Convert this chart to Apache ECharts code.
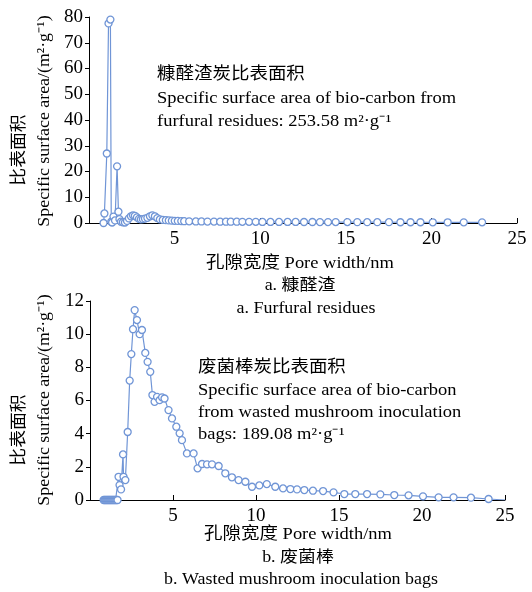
<!DOCTYPE html>
<html lang="en">
<head>
    <meta charset="UTF-8">
    <title>比表面积</title>
    <script src="https://cdn.jsdelivr.net/npm/echarts@6/dist/echarts.min.js"></script>
    <style>
        body { margin: 0; background: #fff; }
        #main { width: 532px; height: 592px; }
    </style>
</head>
<body>
<div id="main"></div>
<script>
    // 糠醛渣 (a) pore width / specific surface area
    var furfuralWidth = [0.85, 0.9, 1.04, 1.14, 1.25, 1.3, 1.35, 1.43, 1.52, 1.64, 1.72, 1.78, 1.87, 1.98, 2.1,
        2.22, 2.33, 2.45, 2.57, 2.68, 2.8, 2.92, 3.03, 3.15, 3.27, 3.41, 3.56, 3.7, 3.85, 3.99, 4.14, 4.31, 4.49,
        4.66, 4.84, 5.01, 5.19, 5.39, 5.56, 5.85, 6.24, 6.57, 6.92, 7.3, 7.66, 8.0, 8.28, 8.63, 8.96, 9.35, 9.74,
        10.13, 10.6, 11.1, 11.6, 12.07, 12.56, 13.05, 13.49, 13.96, 14.41, 15.09, 15.67, 16.25, 16.84, 17.52,
        18.19, 18.78, 19.36, 20.08, 20.95, 21.89, 22.96];
    var furfuralArea = [0, 3.7, 27, 77.5, 79, 0.5, 0.2, 2.5, 1.0, 22, 4.4, 1.5, 0.5, 0.3, 0.2,
        0.8, 1.8, 2.6, 3.0, 2.8, 2.2, 1.6, 1.4, 1.5, 1.7, 2.0, 2.6, 3.0, 2.6, 1.9, 1.4, 1.2, 1.1,
        1.0, 0.9, 0.85, 0.8, 0.75, 0.7, 0.65, 0.6, 0.6, 0.55, 0.55, 0.5, 0.5, 0.5, 0.5, 0.45, 0.45, 0.45,
        0.4, 0.4, 0.4, 0.4, 0.4, 0.38, 0.38, 0.36, 0.36, 0.35, 0.35, 0.34, 0.33, 0.32, 0.32,
        0.3, 0.3, 0.3, 0.28, 0.28, 0.26, 0.25];

    // 废菌棒 (b)
    var mushroomWidth = [0.82, 0.88, 0.94, 1.0, 1.06, 1.12, 1.18, 1.24, 1.3, 1.36, 1.42, 1.48, 1.54, 1.6, 1.66,
        1.72, 1.78, 1.87, 1.99, 2.02, 2.13, 2.27, 2.39, 2.49, 2.59, 2.69, 2.83, 2.99, 3.13, 3.33, 3.47, 3.63,
        3.76, 3.89, 4.04, 4.19, 4.34, 4.49, 4.73, 4.94, 5.2, 5.4, 5.54, 5.84, 6.24, 6.48, 6.75, 7.05, 7.35,
        7.75, 8.15, 8.55, 8.95, 9.36, 9.76, 10.2, 10.65, 11.16, 11.63, 12.07, 12.47, 12.91, 13.43, 14.04,
        14.67, 15.32, 15.98, 16.69, 17.49, 18.33, 19.19, 20.06, 21.0, 21.9, 22.95, 24.01, 25.0];
    var mushroomArea = [0, 0, 0, 0, 0, 0, 0, 0, 0, 0, 0, 0, 0, 0, 0,
        1.4, 0.9, 0.64, 2.75, 1.4, 1.2, 4.1, 7.2, 8.8, 10.3, 11.45, 10.85, 10.0, 10.25, 8.87, 8.33, 7.73,
        6.33, 5.92, 6.22, 6.02, 6.19, 6.12, 5.42, 4.92, 4.42, 4.02, 3.61, 2.81, 2.81, 1.91, 2.17, 2.15, 2.15,
        2.05, 1.61, 1.37, 1.2, 1.1, 0.8, 0.88, 0.96, 0.8, 0.7, 0.66, 0.64, 0.6, 0.56, 0.54,
        0.46, 0.36, 0.36, 0.36, 0.34, 0.3, 0.28, 0.22, 0.16, 0.16, 0.14, 0.06, 0];

    var xTicks = [0, 25, 5];
    var yTicksA = [0, 80, 10];
    var yTicksB = [0, 12, 2];

    var lineColor = '#7095d6';
    var serif = '"Liberation Serif", "Noto Sans CJK SC", serif';

    function pairs(xs, ys) {
        var out = [];
        for (var i = 0; i < xs.length; i++) out.push([xs[i], ys[i]]);
        return out;
    }

    function xAxisOf(gridIndex) {
        return {
            gridIndex: gridIndex, type: 'value',
            min: xTicks[0], max: xTicks[1], interval: xTicks[2],
            axisLine: {lineStyle: {color: '#000', width: 1}},
            axisTick: {inside: true, length: 5, lineStyle: {color: '#000'}},
            axisLabel: {showMinLabel: false, color: '#000', fontSize: 19, fontFamily: serif, margin: 7},
            splitLine: {show: false}
        };
    }

    function yAxisOf(gridIndex, t) {
        return {
            gridIndex: gridIndex, type: 'value',
            min: t[0], max: t[1], interval: t[2],
            axisLine: {show: true, lineStyle: {color: '#000', width: 1}},
            axisTick: {show: true, length: 4, lineStyle: {color: '#000'}},
            axisLabel: {color: '#000', fontSize: 19, fontFamily: serif, margin: 6},
            splitLine: {show: false}
        };
    }

    function seriesOf(idx, data) {
        return {
            type: 'line', xAxisIndex: idx, yAxisIndex: idx,
            data: data,
            symbol: 'circle', symbolSize: 7, showAllSymbol: true,
            lineStyle: {color: lineColor, width: 1.2},
            itemStyle: {color: '#fff', borderColor: lineColor, borderWidth: 1.3},
            animation: false
        };
    }

    // text drawn a bit wider than tall, like the printed figure
    function txt(x, y, text, size, align, rot) {
        return {
            type: 'text', x: x, y: y, rotation: rot || 0, scaleX: rot ? 1.05 : 1.12,
            style: {
                text: text, fill: '#000', fontSize: size, fontFamily: serif,
                textAlign: align || 'left', textVerticalAlign: 'middle'
            }
        };
    }

    var mushroomData = pairs(mushroomWidth, mushroomArea);
    mushroomData[mushroomData.length - 1] = {value: mushroomData[mushroomData.length - 1], symbol: 'none'};

    var myChart = echarts.init(document.getElementById('main'), null, {renderer: 'canvas'});
    var option = {
        backgroundColor: '#fff',
        animation: false,
        grid: [
            {left: 89, right: 15, top: 17, height: 206},
            {left: 90, right: 27, top: 301, height: 199}
        ],
        xAxis: [xAxisOf(0), xAxisOf(1)],
        yAxis: [yAxisOf(0, yTicksA), yAxisOf(1, yTicksB)],
        series: [
            seriesOf(0, pairs(furfuralWidth, furfuralArea)),
            seriesOf(1, mushroomData)
        ],
        graphic: [
            // y axis titles
            txt(20, 150, '比表面积', 17, 'center', Math.PI / 2),
            txt(45, 121, 'Specific surface area/(m²·g⁻¹)', 17, 'center', Math.PI / 2),
            txt(20, 430, '比表面积', 17, 'center', Math.PI / 2),
            txt(45, 400, 'Specific surface area/(m²·g⁻¹)', 17, 'center', Math.PI / 2),
            // annotations
            txt(157, 75, '糠醛渣炭比表面积', 16.5),
            txt(157, 99, 'Specific surface area of bio-carbon from', 16.5),
            txt(157, 122, 'furfural residues: 253.58 m²·g⁻¹', 16.5),
            txt(198, 368, '废菌棒炭比表面积', 16.5),
            txt(198, 391, 'Specific surface area of bio-carbon', 16.5),
            txt(198, 413, 'from wasted mushroom inoculation', 16.5),
            txt(198, 435, 'bags: 189.08 m²·g⁻¹', 16.5),
            // x titles and captions
            txt(300, 264, '孔隙宽度 Pore width/nm', 16.5, 'center'),
            txt(300, 286, 'a. 糠醛渣', 16, 'center'),
            txt(306, 309, 'a. Furfural residues', 16, 'center'),
            txt(298, 535, '孔隙宽度 Pore width/nm', 16.5, 'center'),
            txt(298, 558, 'b. 废菌棒', 16, 'center'),
            txt(301, 580, 'b. Wasted mushroom inoculation bags', 16, 'center')
        ]
    };
    myChart.setOption(option);
</script>
</body>
</html>
